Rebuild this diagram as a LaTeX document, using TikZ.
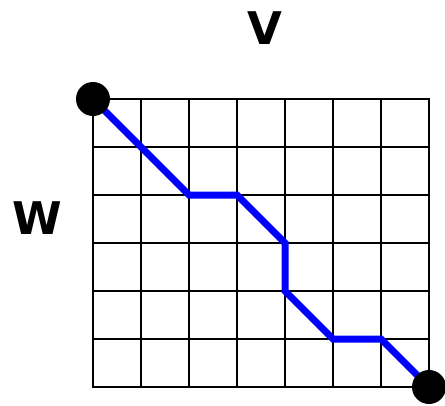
\documentclass[tikz,border=0pt]{standalone}
\usepackage{fontspec}
\setmainfont{DejaVu Sans}
\begin{document}
\begin{tikzpicture}[x=1pt,y=-1pt,
  gridline/.style={line width=2.5pt,black,line cap=rect},
  route/.style={line width=7pt,blue,line join=miter},
  endpt/.style={circle,fill=black,inner sep=0pt,minimum size=34pt},
  lbl/.style={font=\fontsize{45}{45}\selectfont\bfseries,inner sep=0pt}]
\useasboundingbox (0,0) rectangle (445,405);
\foreach \i in {0,...,7} {\draw[gridline] (93+48*\i,99) -- (93+48*\i,387);}
\foreach \j in {0,...,6} {\draw[gridline] (93,99+48*\j) -- (429,99+48*\j);}
\coordinate (p0) at (93,99);
\coordinate (p1) at (189,195);
\coordinate (p2) at (237,195);
\coordinate (p3) at (285,243);
\coordinate (p4) at (285,291);
\coordinate (p5) at (333,339);
\coordinate (p6) at (381,339);
\coordinate (p7) at (429,387);
\draw[route] (p0) -- (p1) -- (p2) -- (p3) -- (p4) -- (p5) -- (p6) -- (p7);
\node[endpt] (s) at (p0) {};
\node[endpt] (t) at (p7) {};
\node[lbl] (v) at (265,28) {V};
\node[lbl] (w) at (37,218) {W};
\end{tikzpicture}
\end{document}
